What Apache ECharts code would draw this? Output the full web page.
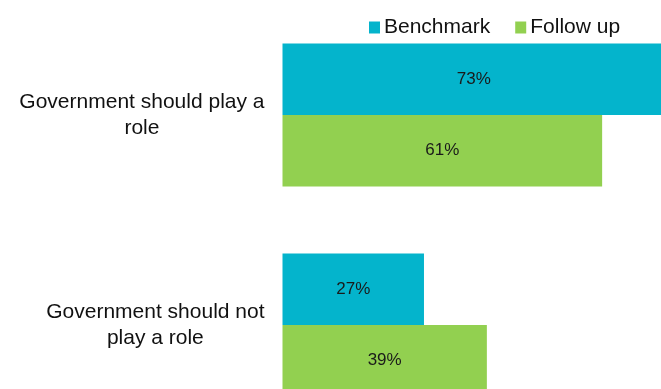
<!DOCTYPE html>
<html>
<head>
<meta charset="utf-8">
<script src="https://cdn.jsdelivr.net/npm/echarts@6/dist/echarts.min.js"></script>
<style>
  html, body { margin: 0; padding: 0; background: #fff; }
  #chart { width: 661px; height: 389px; }
</style>
</head>
<body>
<div id="chart"></div>
<script>
// Survey responses: share agreeing with each statement, per wave
const categories = ['Government should play a role', 'Government should not play a role'];
const seriesNames = ['Benchmark', 'Follow up'];
const benchmark = [73, 27];
const followUp = [61, 39];

const colors = ['#04B4CC', '#92D050'];
const font = 'Liberation Sans, Arial, sans-serif';
const catFontSize = 21;
const catMaxWidth = 252;

// Word-wrap a category name into centred lines no wider than catMaxWidth
const measureCtx = document.createElement('canvas').getContext('2d');
function wrapLabel(text) {
  measureCtx.font = catFontSize + 'px ' + font;
  const words = text.split(' ');
  const lines = [];
  let line = '';
  words.forEach(w => {
    const trial = line ? line + ' ' + w : w;
    if (line && measureCtx.measureText(trial).width > catMaxWidth) {
      lines.push(line);
      line = w;
    } else {
      line = trial;
    }
  });
  if (line) lines.push(line);
  return lines.map(l => '{c|' + l + '}').join('\n');
}

const chart = echarts.init(document.getElementById('chart'), null, { renderer: 'canvas' });

const labelStyle = {
  show: true,
  position: 'inside',
  formatter: '{c}%',
  color: '#1a1a1a',
  fontSize: 17,
  fontFamily: font
};

chart.setOption({
  animation: false,
  color: colors,
  legend: {
    data: seriesNames,
    left: 364,
    top: 12,
    icon: 'rect',
    itemWidth: 11,
    itemHeight: 12,
    itemGap: 25,
    textStyle: { fontSize: 21, fontFamily: font, color: '#111', padding: [0, 0, 0, -1] }
  },
  grid: {
    left: 282.5, top: 10, width: 524, height: 420,
    containLabel: false,
    outerBoundsMode: 'none'
  },
  xAxis: {
    type: 'value',
    min: 0,
    max: 100,
    show: false
  },
  yAxis: {
    type: 'category',
    data: categories,
    inverse: true,
    axisLine: { show: false },
    axisTick: { show: false },
    splitLine: { show: false },
    axisLabel: {
      margin: 18,
      formatter: wrapLabel,
      align: 'right',
      fontSize: catFontSize,
      lineHeight: 26,
      fontFamily: font,
      color: '#111',
      rich: {
        c: {
          align: 'center',
          fontSize: catFontSize,
          lineHeight: 26,
          fontFamily: font,
          color: '#111'
        }
      }
    }
  },
  series: [
    {
      name: seriesNames[0],
      type: 'bar',
      data: benchmark,
      barGap: '0%',
      barCategoryGap: '32%',
      label: labelStyle
    },
    {
      name: seriesNames[1],
      type: 'bar',
      data: followUp,
      barGap: '0%',
      barCategoryGap: '32%',
      label: labelStyle
    }
  ]
});
</script>
</body>
</html>
